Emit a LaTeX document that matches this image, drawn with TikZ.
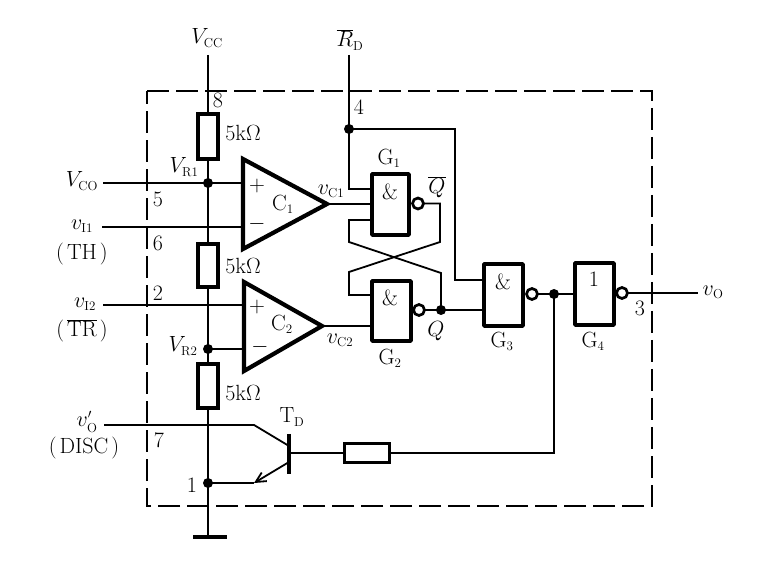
\documentclass[tikz,border=0pt]{standalone}
\usepackage{fix-cm}
\usetikzlibrary{arrows.meta}
\DeclareMathSizes{22}{22}{13}{10}
\newcommand{\lsub}[1]{_{\mathrm{#1}}}
\tikzset{
  wire/.style={line width=1.8pt,line join=miter},
  boxframe/.style={line width=2pt,dash pattern=on 22pt off 7pt},
  gatebox/.style={draw,line width=3.8pt,rectangle,inner sep=0pt,outer sep=0pt,line join=round},
  resbox/.style={draw,line width=3.4pt,rectangle,inner sep=0pt,outer sep=0pt},
  bubble/.style={draw,circle,line width=2.7pt,minimum size=11pt,inner sep=0pt,outer sep=0pt,fill=white},
  dotnode/.style={circle,fill=black,minimum size=10pt,inner sep=0pt,outer sep=0pt},
  opamp/.style={line width=4.2pt,line join=miter},
  lab/.style={font=\fontsize{22}{24}\selectfont,inner sep=0pt,outer sep=0pt},
}
\begin{document}
\begin{tikzpicture}[x=1pt,y=-1pt]
\useasboundingbox (0,0) rectangle (769,569);
% frame
\coordinate (fa) at (147,91);\coordinate (fb) at (652,91);\coordinate (fc) at (652,506);\coordinate (fd) at (147,506);
\draw[boxframe] (fa) -- (fb) -- (fc) -- (fd) -- cycle;
% coordinates
\coordinate (vcc) at (208,55);
\coordinate (rd) at (349,55);
\coordinate (vco) at (103,183);
\coordinate (vi1) at (102,227);
\coordinate (vi2) at (103,305);
\coordinate (vop) at (104,425);
\coordinate (gnd) at (208,537);
\coordinate (gl) at (193,537);\coordinate (gr) at (227,537);
\coordinate (out) at (698,293);
% op-amps
\coordinate (c1a) at (243,159);\coordinate (c1b) at (243,249);\coordinate (c1t) at (327,204);
\coordinate (c2a) at (244,282);\coordinate (c2b) at (244,371);\coordinate (c2t) at (322,326);
% nodes
\node[resbox,minimum width=20pt,minimum height=45pt] (r1) at (208,136.5) {};
\node[resbox,minimum width=20pt,minimum height=43pt] (r2) at (208,265.5) {};
\node[resbox,minimum width=20pt,minimum height=44pt] (r3) at (208,386) {};
\node[resbox,minimum width=45pt,minimum height=19pt,line width=3pt] (rb) at (366.5,453) {};
\node[gatebox,minimum width=37pt,minimum height=61pt] (g1) at (390.5,204.5) {};
\node[gatebox,minimum width=39pt,minimum height=60pt] (g2) at (391.5,311) {};
\node[gatebox,minimum width=39pt,minimum height=62pt] (g3) at (503.5,295) {};
\node[gatebox,minimum width=39pt,minimum height=62pt] (g4) at (594.5,294) {};
\node[bubble] (b1) at (418,203.5) {};
\node[bubble] (b2) at (419,310) {};
\node[bubble] (b3) at (532,294) {};
\node[bubble] (b4) at (622,293) {};
\node[dotnode] (nr1) at (208,183) {};
\node[dotnode] (nr2) at (208,349) {};
\node[dotnode] (n1) at (208,483) {};
\node[dotnode] (nrd) at (349,129) {};
\node[dotnode] (nq) at (441,310) {};
\node[dotnode] (no) at (554,294) {};
% wires
\draw[wire] (vcc) -- (r1.north);
\draw[wire] (r1.south) -- (nr1.center) -- (r2.north);
\draw[wire] (r2.south) -- (nr2.center) -- (r3.north);
\draw[wire] (r3.south) -- (n1.center) -- (gnd);
\draw[line width=4.5pt] (gl) -- (gr);
\draw[wire] (vco) -- (c1a |- vco);
\draw[wire] (vi1) -- (c1a |- vi1);
\draw[wire] (vi2) -- (c2a |- vi2);
\draw[wire] (nr2.center) -- (c2a |- nr2);
% transistor
\coordinate (tk) at (254,425);\coordinate (tc) at (289,446);
\coordinate (tbt) at (289,434);\coordinate (tbb) at (289,474);
\coordinate (tb) at (289,453);
\coordinate (te) at (289,462);\coordinate (tek) at (254,483);
\draw[wire] (vop) -- (tk) -- (tc);
\draw[line width=3.6pt] (tbt) -- (tbb);
\draw[wire] (tek) -- (n1.center);
\draw[wire,-{Straight Barb[length=10pt,width=10pt,line width=1.8pt]}] (te) -- (tek);
\draw[wire] (tb) -- (rb.west);
\draw[wire] (rb.east) -- (no.center |- rb.east) -- (no.center);
% gate wiring
\coordinate (g1t) at (372,189);\coordinate (g1l) at (372,220);
\coordinate (k1) at (349,242);\coordinate (k2) at (441,273);
\coordinate (k3) at (440,242);\coordinate (k4) at (349,272);
\coordinate (g2t) at (372,295);
\coordinate (g3t) at (484,280);
\coordinate (turn) at (455,129);
\draw[wire] (rd) -- (nrd.center) -- (nrd.center |- g1t) -- (g1t);
\draw[wire] (nrd.center) -- (turn) -- (turn |- g3t) -- (g3t);
\draw[wire] (c1t) -- (g1.west |- c1t);
\draw[wire] (c2t) -- (g2.west |- c2t);
\draw[wire] (g1l) -- (k1 |- g1l) -- (k1) -- (k2) -- (k2 |- nq.center);
\draw[wire] (b1.east) -- (k3 |- b1.east) -- (k3) -- (k4) -- (k4 |- g2t) -- (g2t);
\draw[wire] (b2.east) -- (nq.center) -- (g3.west |- nq.center);
\draw[wire] (b3.east) -- (no.center) -- (g4.west |- no.center);
\draw[wire] (b4.east) -- (out);
% op-amp bodies
\draw[opamp] (c1a) -- (c1b) -- (c1t) -- cycle;
\draw[opamp] (c2a) -- (c2b) -- (c2t) -- cycle;
% labels
\node[lab] (tvcc) at (207,38) {$V\lsub{CC}$};
\node[lab] (trd) at (350,40) {$\overline{R}\lsub{D}$};
\node[lab] (t8) at (218,100) {8};
\node[lab] (t4) at (359,107) {4};
\node[lab] (tk1) at (243,133) {5k$\Omega$};
\node[lab] (tk2) at (243,266) {5k$\Omega$};
\node[lab] (tk3) at (243,393) {5k$\Omega$};
\node[lab] (tvr1) at (184,167) {$V\lsub{R1}$};
\node[lab] (tvco) at (82,181) {$V\lsub{CO}$};
\node[lab] (t5) at (158,199) {5};
\node[lab] (tvi1) at (82,226) {$v\lsub{I1}$};
\node[lab] (tth) at (82,254) {(\kern3pt TH\kern3pt)};
\node[lab] (t6) at (158,243) {6};
\node[lab] (t2) at (158,293) {2};
\node[lab] (tvi2) at (85,304) {$v\lsub{I2}$};
\node[lab] (ttr) at (82,331) {(\kern3pt$\overline{\mathrm{TR}}$\kern3pt)};
\node[lab] (tvr2) at (183,346) {$V\lsub{R2}$};
\node[lab] (tvop) at (87,422) {$v'\lsub{O}$};
\node[lab] (tdisc) at (84,448) {(\kern3pt DISC\kern3pt)};
\node[lab] (t7) at (159,440) {7};
\node[lab] (t1) at (192,485) {1};
\node[lab] (ttd) at (292,417) {T$\lsub{D}$};
\node[lab] (tg1) at (389,158) {G$\lsub{1}$};
\node[lab] (tg2) at (390,358) {G$\lsub{2}$};
\node[lab] (tg3) at (502,341) {G$\lsub{3}$};
\node[lab] (tg4) at (593,341) {G$\lsub{4}$};
\node[lab] (ta1) at (390,192) {\&};
\node[lab] (ta2) at (390,298) {\&};
\node[lab] (ta3) at (503,282) {\&};
\node[lab] (to4) at (594,279) {1};
\node[lab] (tc1) at (283,204) {C$\lsub{1}$};
\node[lab] (tc2) at (282,324) {C$\lsub{2}$};
\node[lab] (tp1) at (257,186) {$+$};
\node[lab] (tm1) at (257,224) {$-$};
\node[lab] (tp2) at (257,307) {$+$};
\node[lab] (tm2) at (260,347) {$-$};
\node[lab] (tvc1) at (331,191) {$v\lsub{C1}$};
\node[lab] (tvc2) at (340,340) {$v\lsub{C2}$};
\node[lab] (tqb) at (437,187) {$\overline{Q}$};
\node[lab] (tq) at (436,331) {$Q$};
\node[lab] (t3) at (640,308) {3};
\node[lab] (tvo) at (713,292) {$v\lsub{O}$};
\end{tikzpicture}
\end{document}
